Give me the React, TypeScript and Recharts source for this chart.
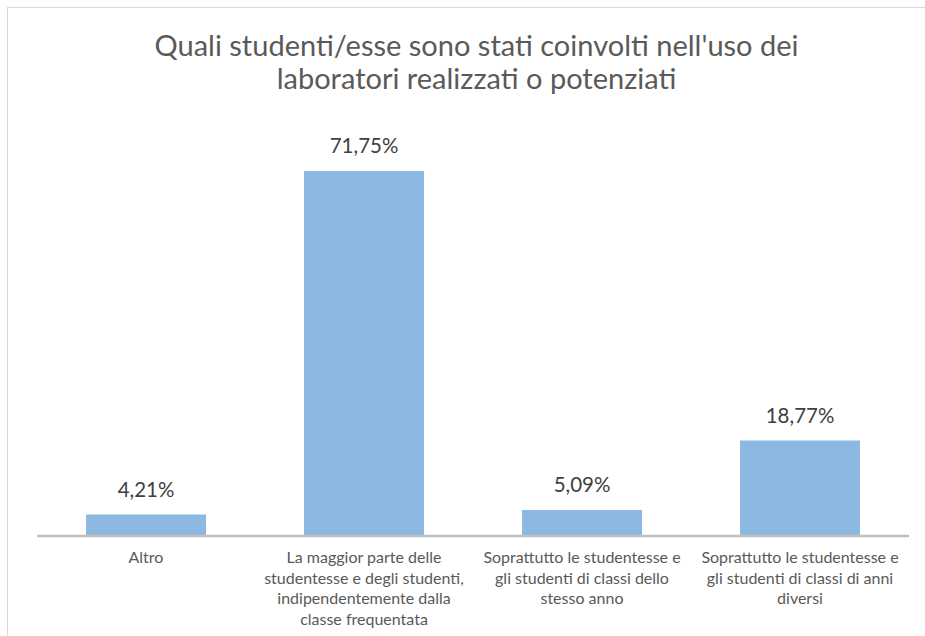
import { BarChart, Bar, XAxis, YAxis, LabelList } from 'recharts';

const categories = [
  'Altro',
  'La maggior parte delle studentesse e degli studenti, indipendentemente dalla classe frequentata',
  'Soprattutto le studentesse e gli studenti di classi dello stesso anno',
  'Soprattutto le studentesse e gli studenti di classi di anni diversi',
];

const tickLines = [
  ['Altro'],
  ['La maggior parte delle', 'studentesse e degli studenti,', 'indipendentemente dalla', 'classe frequentata'],
  ['Soprattutto le studentesse e', 'gli studenti di classi dello', 'stesso anno'],
  ['Soprattutto le studentesse e', 'gli studenti di classi di anni', 'diversi'],
];

const percentages = [4.21, 71.75, 5.09, 18.77];

const titleLines = [
  "Quali studenti/esse sono stati coinvolti nell'uso dei",
  'laboratori realizzati o potenziati',
];

const data = categories.map((name, i) => ({ name, idx: i, value: percentages[i] }));

const FONT = 'Lato, "Open Sans", sans-serif';

function CategoryTick(props: any) {
  const { x, y, payload } = props;
  const lines = tickLines[payload.index] || [payload.value];
  return (
    <text x={x} y={y} textAnchor="middle" fontFamily={FONT} fontSize={16} fill="#595959">
      {lines.map((line, i) => (
        <tspan key={i} x={x} dy={i === 0 ? 19 : 20.5}>
          {line}
        </tspan>
      ))}
    </text>
  );
}

export default function App() {
  return (
    <div style={{ position: 'fixed', left: 0, top: 0, width: 925, height: 636, background: '#fff', overflow: 'hidden' }}>
      <div
        style={{
          position: 'absolute',
          left: 7,
          top: 7,
          width: 1000,
          height: 1000,
          borderLeft: '1px solid #d9d9d9',
          borderTop: '1px solid #d9d9d9',
        }}
      />
      <div
        style={{
          position: 'absolute',
          left: 14,
          top: 28,
          width: 925,
          textAlign: 'center',
          fontFamily: FONT,
          fontSize: 29,
          lineHeight: '33px',
          color: '#5a5a5a',
        }}
      >
        {titleLines.map((t, i) => (
          <div key={i}>{t}</div>
        ))}
      </div>
      <div style={{ position: 'absolute', left: 0, top: 0 }}>
        <BarChart width={925} height={636} data={data} margin={{ top: 129, right: 16, bottom: 0, left: 37 }} barCategoryGap="22.5%">
          <XAxis
            dataKey="name"
            interval={0}
            height={100}
            tickLine={false}
            axisLine={{ stroke: '#c0c0c0', strokeWidth: 2.5 }}
            tick={<CategoryTick />}
          />
          <YAxis hide domain={[0, 80]} />
          <Bar dataKey="value" fill="#8cb8e1" isAnimationActive={false}>
            <LabelList
              dataKey="value"
              position="top"
              offset={18}
              formatter={(v: any) => `${Number(v).toFixed(2).replace('.', ',')}%`}
              style={{ fontFamily: FONT, fontSize: 20.5, fill: '#404040' }}
            />
          </Bar>
        </BarChart>
      </div>
    </div>
  );
}
